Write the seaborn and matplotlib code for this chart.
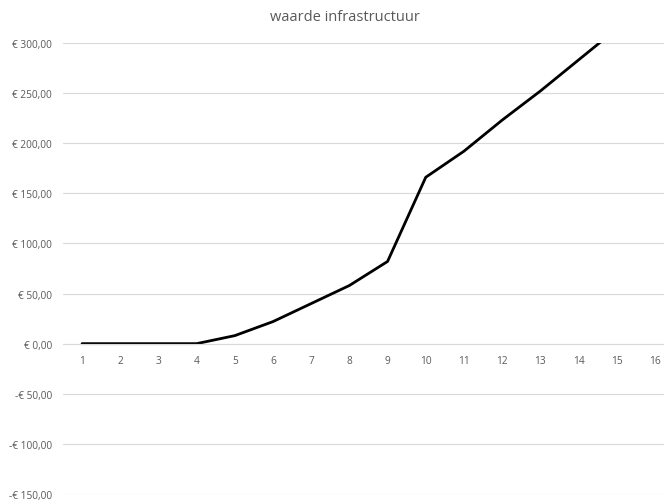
import matplotlib
matplotlib.use("Agg")
import matplotlib.pyplot as plt
import seaborn as sns
import pandas as pd

# data
jaren = list(range(1, 17))
waarde = [0, 0, 0, 0, 8, 22, 40, 58, 82, 166, 192, 223, 252, 283, 314, 345]
y_ticks = [-150, -100, -50, 0, 50, 100, 150, 200, 250, 300]

df = pd.DataFrame({"jaar": jaren, "waarde": waarde})

sns.set_theme(style="white")
plt.rcParams["font.family"] = ["Open Sans", "DejaVu Sans"]

fig = plt.figure(figsize=(6.64, 5.02), dpi=100)
ax = fig.add_axes([0.0949, 0.014, 1.0 - 0.0949, 0.9124 - 0.014])

sns.lineplot(data=df, x="jaar", y="waarde", color="black", linewidth=2.0, ax=ax)

# spine position first: moving it resets the ticks
for side in ["top", "right", "left"]:
    ax.spines[side].set_visible(False)
ax.spines["bottom"].set_position(("data", 0))
ax.spines["bottom"].set_color("#d9d9d9")
ax.spines["bottom"].set_linewidth(0.8)

ax.set_xlim(0.5, 16.24)
ax.set_ylim(-150, 300)
ax.set_yticks(y_ticks)


def euro(v):
    s = f"€ {abs(v):,.2f}".replace(".", ",")
    return ("-" + s) if v < 0 else s


ax.set_yticklabels([euro(v) for v in y_ticks], fontsize=7.3, color="#595959")
ax.set_xticks(jaren)
ax.set_xticklabels([str(j) for j in jaren], fontsize=7.3, color="#595959")

ax.grid(axis="y", color="#d9d9d9", linewidth=0.8)
ax.set_axisbelow(True)
ax.tick_params(axis="both", length=0)
ax.tick_params(axis="x", pad=8)
ax.tick_params(axis="y", pad=8)
ax.set_xlabel("")
ax.set_ylabel("")

fig.text(0.52, 0.966, "waarde infrastructuur", ha="center", va="center",
         fontsize=10.5, color="#595959")

fig.savefig("out.png", dpi=100)
